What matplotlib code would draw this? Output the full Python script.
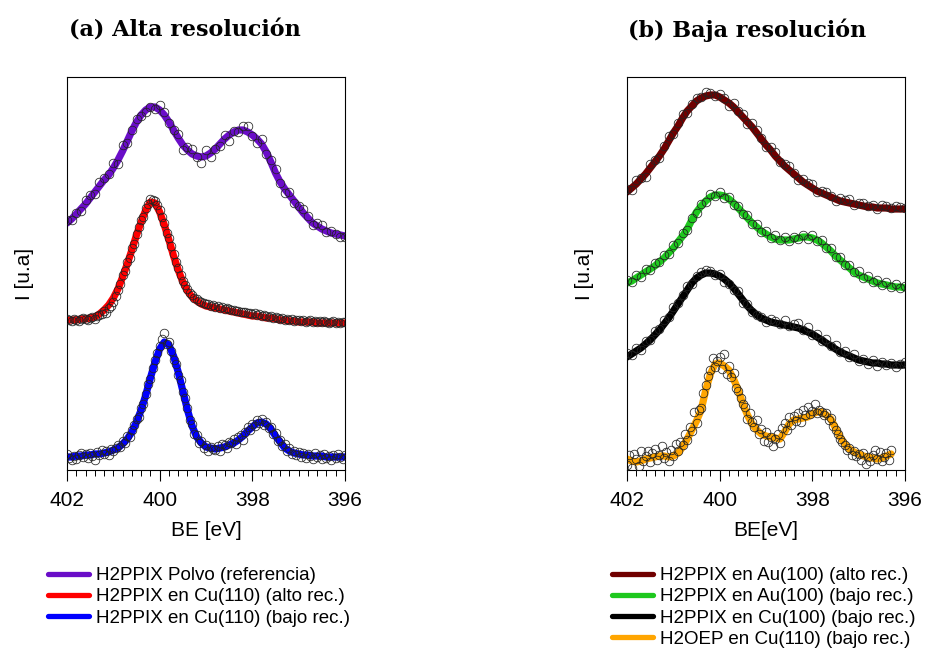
import numpy as np
import matplotlib
matplotlib.use("Agg")
import matplotlib.pyplot as plt
from matplotlib.lines import Line2D

plt.rcParams['font.family'] = ['Liberation Sans', 'DejaVu Sans']

# binding energy grids (eV): 0.1 eV steps and 0.05 eV steps
be_01 = np.linspace(402, 396, 61)
be_005 = np.linspace(402, 396, 121)

# ---- (a) high resolution ----
fit_polvo = [2.47, 2.51, 2.56, 2.61, 2.66, 2.72, 2.78, 2.84, 2.90, 2.95,
             3.02, 3.10, 3.19, 3.29, 3.39, 3.48, 3.55, 3.60, 3.63, 3.63,
             3.60, 3.55, 3.48, 3.40, 3.32, 3.25, 3.20, 3.16, 3.14, 3.13,
             3.14, 3.17, 3.21, 3.26, 3.31, 3.35, 3.38, 3.40, 3.40, 3.38,
             3.35, 3.31, 3.26, 3.18, 3.08, 2.97, 2.88, 2.81, 2.75, 2.69,
             2.63, 2.57, 2.52, 2.47, 2.44, 2.41, 2.39, 2.37, 2.36, 2.35,
             2.34]
pts_polvo = [2.50, 2.50, 2.57, 2.59, 2.70, 2.75, 2.76, 2.88, 2.92, 2.96,
             3.07, 3.06, 3.25, 3.27, 3.40, 3.51, 3.54, 3.58, 3.63, 3.61,
             3.65, 3.58, 3.47, 3.40, 3.36, 3.20, 3.23, 3.21, 3.13, 3.07,
             3.20, 3.13, 3.21, 3.24, 3.35, 3.29, 3.39, 3.38, 3.44, 3.44,
             3.34, 3.27, 3.31, 3.16, 3.10, 3.01, 2.87, 2.77, 2.78, 2.67,
             2.64, 2.61, 2.54, 2.45, 2.47, 2.45, 2.38, 2.39, 2.36, 2.33,
             2.33]

fit_cu110_alto = [1.50, 1.50, 1.50, 1.51, 1.51, 1.52, 1.53, 1.56, 1.60, 1.65,
                  1.72, 1.81, 1.93, 2.06, 2.20, 2.35, 2.48, 2.60, 2.68, 2.67,
                  2.58, 2.45, 2.30, 2.14, 2.00, 1.88, 1.79, 1.73, 1.69, 1.66,
                  1.64, 1.63, 1.62, 1.61, 1.60, 1.59, 1.58, 1.57, 1.56, 1.55,
                  1.54, 1.54, 1.53, 1.52, 1.52, 1.51, 1.50, 1.50, 1.49, 1.49,
                  1.48, 1.48, 1.48, 1.48, 1.47, 1.47, 1.47, 1.47, 1.47, 1.47,
                  1.47]
pts_cu110_alto = [1.51, 1.50, 1.49, 1.51, 1.50, 1.49, 1.51, 1.52, 1.51, 1.50,
                  1.52, 1.53, 1.51, 1.54, 1.55, 1.56, 1.59, 1.57, 1.62, 1.64,
                  1.68, 1.74, 1.80, 1.86, 1.95, 1.99, 2.08, 2.12, 2.22, 2.26,
                  2.36, 2.43, 2.50, 2.53, 2.62, 2.66, 2.71, 2.70, 2.69, 2.65,
                  2.60, 2.53, 2.47, 2.37, 2.32, 2.24, 2.16, 2.08, 2.02, 1.95,
                  1.89, 1.85, 1.81, 1.77, 1.75, 1.72, 1.71, 1.69, 1.68, 1.67,
                  1.66, 1.66, 1.64, 1.65, 1.63, 1.64, 1.62, 1.63, 1.61, 1.62,
                  1.61, 1.60, 1.60, 1.59, 1.59, 1.58, 1.58, 1.58, 1.57, 1.57,
                  1.56, 1.57, 1.55, 1.56, 1.54, 1.55, 1.54, 1.53, 1.54, 1.52,
                  1.53, 1.52, 1.51, 1.52, 1.50, 1.51, 1.50, 1.51, 1.49, 1.50,
                  1.50, 1.49, 1.50, 1.48, 1.49, 1.50, 1.48, 1.49, 1.48, 1.49,
                  1.48, 1.49, 1.48, 1.47, 1.48, 1.49, 1.47, 1.48, 1.47, 1.48,
                  1.48]

fit_cu110_bajo = [0.13, 0.13, 0.14, 0.14, 0.15, 0.15, 0.16, 0.16, 0.17, 0.18,
                  0.20, 0.22, 0.26, 0.31, 0.38, 0.48, 0.60, 0.75, 0.92, 1.08,
                  1.21, 1.28, 1.25, 1.14, 0.98, 0.79, 0.60, 0.44, 0.33, 0.27,
                  0.23, 0.22, 0.21, 0.22, 0.23, 0.25, 0.27, 0.30, 0.34, 0.39,
                  0.43, 0.47, 0.48, 0.46, 0.41, 0.34, 0.28, 0.22, 0.19, 0.17,
                  0.16, 0.15, 0.15, 0.14, 0.14, 0.14, 0.13, 0.13, 0.13, 0.13,
                  0.13]
pts_cu110_bajo = [0.16, 0.12, 0.10, 0.14, 0.11, 0.15, 0.17, 0.13, 0.16, 0.12,
                  0.17, 0.14, 0.10, 0.18, 0.15, 0.20, 0.16, 0.19, 0.15, 0.21,
                  0.19, 0.22, 0.25, 0.23, 0.29, 0.27, 0.34, 0.33, 0.40, 0.45,
                  0.51, 0.53, 0.62, 0.66, 0.76, 0.86, 0.91, 1.02, 1.10, 1.17,
                  1.24, 1.31, 1.37, 1.26, 1.28, 1.19, 1.10, 1.06, 0.95, 0.90,
                  0.78, 0.72, 0.62, 0.50, 0.46, 0.36, 0.35, 0.27, 0.29, 0.22,
                  0.25, 0.19, 0.23, 0.21, 0.20, 0.24, 0.19, 0.26, 0.25, 0.22,
                  0.28, 0.27, 0.31, 0.26, 0.33, 0.35, 0.30, 0.38, 0.43, 0.40,
                  0.46, 0.44, 0.50, 0.47, 0.51, 0.45, 0.48, 0.42, 0.43, 0.36,
                  0.37, 0.29, 0.30, 0.24, 0.26, 0.19, 0.22, 0.16, 0.19, 0.15,
                  0.18, 0.13, 0.17, 0.12, 0.16, 0.14, 0.11, 0.17, 0.13, 0.15,
                  0.11, 0.16, 0.12, 0.14, 0.10, 0.15, 0.12, 0.16, 0.13, 0.11,
                  0.15]

# ---- (b) low resolution ----
fit_au100_alto = [2.78, 2.82, 2.86, 2.91, 2.96, 3.02, 3.08, 3.14, 3.21, 3.29,
                  3.37, 3.44, 3.52, 3.59, 3.64, 3.69, 3.72, 3.74, 3.75, 3.75,
                  3.73, 3.70, 3.67, 3.63, 3.58, 3.53, 3.48, 3.43, 3.37, 3.31,
                  3.25, 3.20, 3.14, 3.09, 3.04, 3.00, 2.96, 2.92, 2.88, 2.85,
                  2.82, 2.79, 2.77, 2.75, 2.73, 2.71, 2.69, 2.68, 2.67, 2.66,
                  2.65, 2.64, 2.63, 2.63, 2.62, 2.62, 2.62, 2.61, 2.61, 2.61,
                  2.61]
pts_au100_alto = [2.81, 2.80, 2.90, 2.92, 2.93, 3.06, 3.10, 3.12, 3.24, 3.34,
                  3.36, 3.47, 3.56, 3.57, 3.66, 3.72, 3.73, 3.78, 3.77, 3.74,
                  3.76, 3.72, 3.64, 3.67, 3.59, 3.56, 3.46, 3.47, 3.40, 3.32,
                  3.23, 3.23, 3.18, 3.08, 3.06, 3.04, 2.97, 2.90, 2.91, 2.87,
                  2.86, 2.78, 2.79, 2.78, 2.74, 2.69, 2.72, 2.70, 2.71, 2.65,
                  2.67, 2.67, 2.64, 2.65, 2.61, 2.65, 2.64, 2.62, 2.64, 2.63,
                  2.62]

fit_au100_bajo = [1.87, 1.89, 1.92, 1.95, 1.98, 2.01, 2.04, 2.08, 2.12, 2.17,
                  2.22, 2.28, 2.34, 2.41, 2.50, 2.58, 2.64, 2.69, 2.73, 2.75,
                  2.75, 2.74, 2.71, 2.67, 2.62, 2.57, 2.52, 2.47, 2.43, 2.39,
                  2.36, 2.33, 2.31, 2.30, 2.30, 2.30, 2.31, 2.32, 2.33, 2.33,
                  2.32, 2.30, 2.27, 2.23, 2.19, 2.14, 2.10, 2.06, 2.02, 1.98,
                  1.95, 1.93, 1.91, 1.89, 1.87, 1.86, 1.85, 1.84, 1.83, 1.83,
                  1.82]
pts_au100_bajo = [1.90, 1.88, 1.95, 1.93, 2.01, 2.00, 2.07, 2.08, 2.15, 2.16,
                  2.25, 2.27, 2.37, 2.40, 2.52, 2.57, 2.66, 2.68, 2.76, 2.74,
                  2.78, 2.72, 2.73, 2.65, 2.64, 2.56, 2.55, 2.46, 2.46, 2.38,
                  2.39, 2.32, 2.35, 2.30, 2.33, 2.29, 2.33, 2.31, 2.35, 2.31,
                  2.35, 2.29, 2.30, 2.22, 2.22, 2.13, 2.13, 2.05, 2.05, 1.98,
                  1.99, 1.92, 1.94, 1.88, 1.90, 1.85, 1.88, 1.83, 1.86, 1.82,
                  1.84]

fit_cu100_bajo = [1.13, 1.16, 1.19, 1.22, 1.26, 1.30, 1.35, 1.40, 1.46, 1.52,
                  1.59, 1.66, 1.73, 1.80, 1.87, 1.92, 1.95, 1.97, 1.97, 1.96,
                  1.94, 1.91, 1.87, 1.82, 1.76, 1.70, 1.64, 1.59, 1.55, 1.52,
                  1.50, 1.48, 1.47, 1.46, 1.45, 1.44, 1.43, 1.42, 1.40, 1.38,
                  1.36, 1.33, 1.30, 1.27, 1.24, 1.21, 1.18, 1.16, 1.14, 1.12,
                  1.10, 1.09, 1.08, 1.07, 1.07, 1.06, 1.06, 1.05, 1.05, 1.05,
                  1.05]
pts_cu100_bajo = [1.17, 1.15, 1.22, 1.20, 1.29, 1.30, 1.39, 1.41, 1.50, 1.53,
                  1.63, 1.67, 1.75, 1.84, 1.86, 1.94, 1.98, 2.00, 1.99, 1.95,
                  1.96, 1.88, 1.86, 1.80, 1.79, 1.67, 1.66, 1.58, 1.55, 1.53,
                  1.48, 1.51, 1.49, 1.46, 1.50, 1.44, 1.46, 1.47, 1.40, 1.43,
                  1.35, 1.36, 1.29, 1.31, 1.24, 1.25, 1.18, 1.19, 1.13, 1.16,
                  1.09, 1.11, 1.06, 1.10, 1.04, 1.08, 1.05, 1.07, 1.03, 1.06,
                  1.08]

# H2OEP spectrum stops at 396.3 eV
fit_oep = [0.11, 0.09, 0.08, 0.09, 0.11, 0.12, 0.13, 0.14, 0.14, 0.13,
           0.14, 0.17, 0.23, 0.31, 0.40, 0.49, 0.60, 0.80, 0.96, 1.06,
           1.07, 1.04, 1.00, 0.91, 0.80, 0.66, 0.55, 0.46, 0.40, 0.36,
           0.34, 0.33, 0.32, 0.31, 0.38, 0.46, 0.50, 0.51, 0.52, 0.53,
           0.56, 0.58, 0.58, 0.55, 0.51, 0.42, 0.33, 0.26, 0.21, 0.18,
           0.16, 0.14, 0.13, 0.12, 0.11, 0.12, 0.14, 0.16]
pts_oep = [0.05, 0.15, 0.02, 0.16, 0.11, 0.04, 0.19, 0.09, 0.14, 0.19,
           0.08, 0.17, 0.21, 0.10, 0.15, 0.24, 0.12, 0.18, 0.09, 0.20,
           0.14, 0.26, 0.19, 0.28, 0.25, 0.36, 0.30, 0.43, 0.39, 0.58,
           0.47, 0.60, 0.62, 0.77, 0.85, 0.94, 1.00, 1.12, 1.03, 1.09,
           1.13, 1.01, 1.16, 0.96, 1.04, 0.93, 0.97, 0.82, 0.79, 0.72,
           0.66, 0.63, 0.51, 0.57, 0.48, 0.43, 0.50, 0.36, 0.41, 0.29,
           0.38, 0.28, 0.33, 0.24, 0.31, 0.36, 0.27, 0.42, 0.47, 0.40,
           0.53, 0.45, 0.54, 0.49, 0.57, 0.48, 0.60, 0.55, 0.63, 0.56,
           0.59, 0.66, 0.57, 0.60, 0.58, 0.55, 0.57, 0.50, 0.52, 0.44,
           0.40, 0.36, 0.31, 0.28, 0.25, 0.20, 0.22, 0.15, 0.19, 0.14,
           0.16, 0.10, 0.17, 0.06, 0.13, 0.09, 0.15, 0.20, 0.11, 0.18,
           0.09, 0.13, 0.17, 0.10, 0.20]

labels_a = ["H2PPIX Polvo (referencia)",
            "H2PPIX en Cu(110) (alto rec.)",
            "H2PPIX en Cu(110) (bajo rec.)"]
colors_a = ["#6a0dc8", "#ff0000", "#0000ff"]
labels_b = ["H2PPIX en Au(100) (alto rec.)",
            "H2PPIX en Au(100) (bajo rec.)",
            "H2PPIX en Cu(100) (bajo rec.)",
            "H2OEP en Cu(110) (bajo rec.)"]
colors_b = ["#700000", "#1ec81e", "#000000", "#ffa500"]

# (fit, fit grid, points, points grid)
series_a = [(fit_polvo, be_01, pts_polvo, be_01),
            (fit_cu110_alto, be_01, pts_cu110_alto, be_005),
            (fit_cu110_bajo, be_01, pts_cu110_bajo, be_005)]
series_b = [(fit_au100_alto, be_01, pts_au100_alto, be_01),
            (fit_au100_bajo, be_01, pts_au100_bajo, be_01),
            (fit_cu100_bajo, be_01, pts_cu100_bajo, be_01),
            (fit_oep, be_01, pts_oep, be_005)]


def panel(ax, series, colors, xlabel):
    for (fit, xf, pts, xp), c in zip(series, colors):
        ax.plot(xf[:len(fit)], fit, color=c, lw=5.2, solid_capstyle='round', zorder=2)
        ax.plot(xp[:len(pts)], pts, ls='none', marker='o', ms=6.2,
                mfc='none', mec='#222222', mew=0.55, zorder=3)
    ax.set_xlim(402, 396)
    ax.set_ylim(0, 3.93)
    ax.set_xticks([402, 400, 398, 396])
    ax.set_xticks(np.arange(396, 402.01, 0.2), minor=True)
    ax.set_yticks([])
    ax.tick_params(axis='x', which='major', direction='out', length=8, width=0.8,
                   pad=7, labelsize=15)
    ax.tick_params(axis='x', which='minor', direction='out', length=4.5, width=0.7)
    for s in ax.spines.values():
        s.set_linewidth(0.8)
    ax.set_xlabel(xlabel, fontsize=15)
    ax.set_ylabel("I [u.a]", fontsize=15)
    ax.xaxis.set_label_coords(0.5, -0.13)
    ax.yaxis.set_label_coords(-0.12, 0.5)


fig = plt.figure(figsize=(9.25, 6.51), dpi=100)
ax_a = fig.add_axes([67 / 925, 1 - 470 / 651, 278 / 925, 393 / 651])
ax_b = fig.add_axes([627 / 925, 1 - 470 / 651, 278 / 925, 393 / 651])

panel(ax_a, series_a, colors_a, "BE [eV]")
panel(ax_b, series_b, colors_b, "BE[eV]")

for title, x0 in [("(a) Alta resolución", 69), ("(b) Baja resolución", 628)]:
    fig.text(x0 / 925, 1 - 37 / 651, title, family='DejaVu Serif', weight='bold',
             fontsize=16, ha='left', va='baseline')

for labels, colors, x0 in [(labels_a, colors_a, 48), (labels_b, colors_b, 612)]:
    handles = [Line2D([], [], color=c, lw=3.8, solid_capstyle='round') for c in colors]
    fig.legend(handles, labels, loc='upper left', bbox_to_anchor=(x0 / 925, 1 - 567 / 651),
               frameon=False, fontsize=13.5, handlelength=2.2, handletextpad=0.38,
               labelspacing=0.22, borderpad=0, borderaxespad=0)

fig.savefig("out.png", dpi=100)
